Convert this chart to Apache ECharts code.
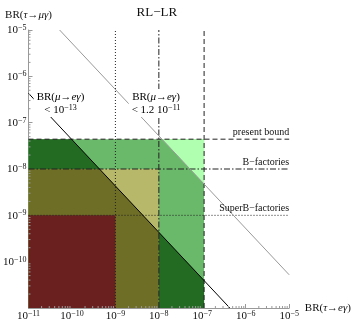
<!DOCTYPE html>
<html><head><meta charset="utf-8">
<script src="https://cdn.jsdelivr.net/npm/echarts@6/dist/echarts.min.js"></script>
<style>html,body{margin:0;padding:0;background:#fff}#c{width:354px;height:326px}</style>
</head><body><div id="c"></div>
<script>
// ---- data ----
const xRange = [1e-11, 1e-5];          // BR(τ→eγ)
const yRange = [1e-11, 1e-5];          // BR(τ→μγ)
const tickExponents = [-11, -10, -9, -8, -7, -6, -5];
const minorMultipliers = [2, 3, 4, 5, 6, 7, 8, 9];
// [bound on BR(τ→eγ), bound on BR(τ→μγ)]
const presentBound = [1.1e-7, 4.4e-8];
const bFactories = [1e-8, 1e-8];
const superBFactories = [1e-9, 1e-9];
// BR(τ→μγ)·BR(τ→eγ) along the μ→eγ limits
const productMeg13 = 4.3e-18;     // BR(μ→eγ) < 10^-13
const productMeg12 = 5.2e-16;     // BR(μ→eγ) < 1.2 10^-11
const boundLabels = ['present bound', 'B\u2212factories', 'SuperB\u2212factories'];

// ---- styles ----
const SERIF = 'Liberation Serif';
const C = {
  red: 'rgb(107,32,32)', olive: 'rgb(110,110,38)', darkGreen: 'rgb(35,107,35)',
  midGreen: 'rgb(106,184,106)', khaki: 'rgb(184,184,106)', paleGreen: 'rgb(176,255,176)'
};

const X0 = xRange[0], Y0 = yRange[0];
function rect(b) { return [[X0, Y0], [b[0], Y0], [b[0], b[1]], [X0, b[1]]]; }
function below(b, k) { return [[X0, Y0], [b[0], Y0], [b[0], k / b[0]], [k / b[1], b[1]], [X0, b[1]]]; }
function above(b, k) { return [[k / b[1], b[1]], [b[0], b[1]], [b[0], k / b[0]]]; }

const regions = [
  { pts: rect(presentBound), color: C.midGreen },
  { pts: above(presentBound, productMeg12), color: C.paleGreen },
  { pts: below(presentBound, productMeg13), color: C.darkGreen },
  { pts: rect(bFactories), color: C.khaki },
  { pts: below(bFactories, productMeg13), color: C.olive },
  { pts: rect(superBFactories), color: C.red }
];

const minorX = [], minorY = [];
tickExponents.slice(0, -1).forEach(e => minorMultipliers.forEach(m => {
  minorX.push([m * Math.pow(10, e), Y0]);
  minorY.push([X0, m * Math.pow(10, e)]);
}));

const supRich = {
  b: { fontSize: 11, fontFamily: SERIF, color: '#111', lineHeight: 12, padding: [4, 0, 0, 0], verticalAlign: 'bottom' },
  s: { fontSize: 8, fontFamily: SERIF, color: '#111', lineHeight: 8, verticalAlign: 'top' }
};
function powFmt(v) {
  const e = Math.round(Math.log10(v));
  return '{b|10}{s|' + (e < 0 ? '\u2212' : '') + Math.abs(e) + '}';
}
const nameRich = {
  n: { fontSize: 11, fontFamily: SERIF, color: '#111' },
  i: { fontSize: 11, fontFamily: SERIF, fontStyle: 'italic', color: '#111' }
};

function lineSeries(pts, color, type) {
  return { type: 'line', data: pts, symbol: 'none', silent: true, animation: false, z: 5,
    lineStyle: { color: color, width: 1, type: type } };
}
const DASH = [5, 3], DASHDOT = [6, 2, 1.5, 2], DOT = [1, 2];
const LINE = '#222';

const chart = echarts.init(document.getElementById('c'));
chart.setOption({
  animation: false,
  grid: { left: 26, right: 60, top: 30, bottom: 18 },
  xAxis: {
    type: 'log', min: xRange[0], max: xRange[1], logBase: 10, interval: 1, splitNumber: 6,
    name: '{n|BR(}{i|τ}{n|→}{i|eγ}{n|)}', nameLocation: 'end', nameGap: 4,
    nameTextStyle: { rich: nameRich, verticalAlign: 'middle' },
    axisLine: { lineStyle: { color: '#999' } },
    axisTick: { inside: true, length: 4, lineStyle: { color: '#999' } },
    splitLine: { show: false },
    axisLabel: { formatter: powFmt, rich: supRich, margin: 2 }
  },
  yAxis: {
    type: 'log', min: yRange[0], max: yRange[1], logBase: 10, interval: 1, splitNumber: 6,
    name: '{n|BR(}{i|τ}{n|→}{i|μγ}{n|)}', nameLocation: 'end', nameGap: 8,
    nameTextStyle: { rich: nameRich, align: 'center' },
    axisLine: { lineStyle: { color: '#999' } },
    axisTick: { inside: true, length: 4, lineStyle: { color: '#999' } },
    splitLine: { show: false },
    axisLabel: { formatter: powFmt, rich: supRich, margin: 2, showMinLabel: false }
  },
  series: [
    { type: 'custom', silent: true, z: 1, animation: false,
      data: regions.map(r => r.pts[0]),
      renderItem: function (params, api) {
        const r = regions[params.dataIndex];
        return { type: 'polygon', shape: { points: r.pts.map(p => api.coord(p)) },
          style: { fill: r.color } };
      } },
    lineSeries([[superBFactories[0], Y0], [superBFactories[0], yRange[1]]], LINE, DOT),
    lineSeries([[bFactories[0], Y0], [bFactories[0], yRange[1]]], LINE, DASHDOT),
    lineSeries([[presentBound[0], Y0], [presentBound[0], yRange[1]]], LINE, DASH),
    lineSeries([[X0, presentBound[1]], [xRange[1], presentBound[1]]], LINE, DASH),
    lineSeries([[X0, bFactories[1]], [xRange[1], bFactories[1]]], LINE, DASHDOT),
    lineSeries([[X0, superBFactories[1]], [xRange[1], superBFactories[1]]], LINE, DOT),
    lineSeries([[X0, productMeg13 / X0], [productMeg13 / Y0, Y0]], '#000', 'solid'),
    lineSeries([[productMeg12 / yRange[1], yRange[1]], [xRange[1], productMeg12 / xRange[1]]], '#999', 'solid'),
    { type: 'custom', silent: true, z: 6, animation: false, data: minorX,
      renderItem: function (params, api) {
        const p = api.coord([api.value(0), api.value(1)]);
        return { type: 'line', shape: { x1: p[0], y1: p[1], x2: p[0], y2: p[1] - 2 }, style: { stroke: '#999', lineWidth: 1 } };
      } },
    { type: 'custom', silent: true, z: 6, animation: false, data: minorY,
      renderItem: function (params, api) {
        const p = api.coord([api.value(0), api.value(1)]);
        return { type: 'line', shape: { x1: p[0], y1: p[1], x2: p[0] + 2, y2: p[1] }, style: { stroke: '#999', lineWidth: 1 } };
      } }
  ]
});

// annotations positioned through the chart's own coordinate system
const labelRich = {
  n: { fontSize: 11, fontFamily: SERIF, color: '#111', lineHeight: 14 },
  i: { fontSize: 11, fontFamily: SERIF, color: '#111', fontStyle: 'italic', lineHeight: 14 },
  b: { fontSize: 11, fontFamily: SERIF, color: '#111', lineHeight: 12, padding: [4, 0, 0, 0], verticalAlign: 'bottom' },
  s: { fontSize: 8, fontFamily: SERIF, color: '#111', lineHeight: 8, verticalAlign: 'top' }
};
const g = [];
const rightX = chart.convertToPixel({ gridIndex: 0 }, [xRange[1], Y0])[0];
[presentBound, bFactories, superBFactories].forEach((b, i) => {
  const py = chart.convertToPixel({ gridIndex: 0 }, [X0, b[1]])[1];
  g.push({ type: 'text', z: 100, x: rightX, y: py - 1.5,
    style: { text: boundLabels[i], fontSize: 10, fontFamily: SERIF, fill: '#111', align: 'right', verticalAlign: 'bottom' } });
});
const tl = chart.convertToPixel({ gridIndex: 0 }, [X0, yRange[1]]);
const br = chart.convertToPixel({ gridIndex: 0 }, [xRange[1], Y0]);
g.push({ type: 'text', z: 100, x: (tl[0] + br[0]) / 2 - 2, y: 13,
  style: { text: 'RL\u2212LR', fontSize: 13, fontFamily: SERIF, fill: '#111', align: 'center', verticalAlign: 'middle' } });
g.push({ type: 'text', z: 100, x: 60.5, y: 103,
  style: { text: '{n|BR(}{i|μ}{n|→}{i|eγ}{n|)}\n{b|< 10}{s|\u221213}', rich: labelRich, align: 'center', verticalAlign: 'middle',
    backgroundColor: '#fff', padding: [1, 3] } });
g.push({ type: 'text', z: 100, x: 156, y: 103,
  style: { text: '{n|BR(}{i|μ}{n|→}{i|eγ}{n|)}\n{b|< 1.2 10}{s|\u221211}', rich: labelRich, align: 'center', verticalAlign: 'middle',
    backgroundColor: '#fff', padding: [1, 3] } });
chart.setOption({ graphic: g });
</script>
</body></html>
